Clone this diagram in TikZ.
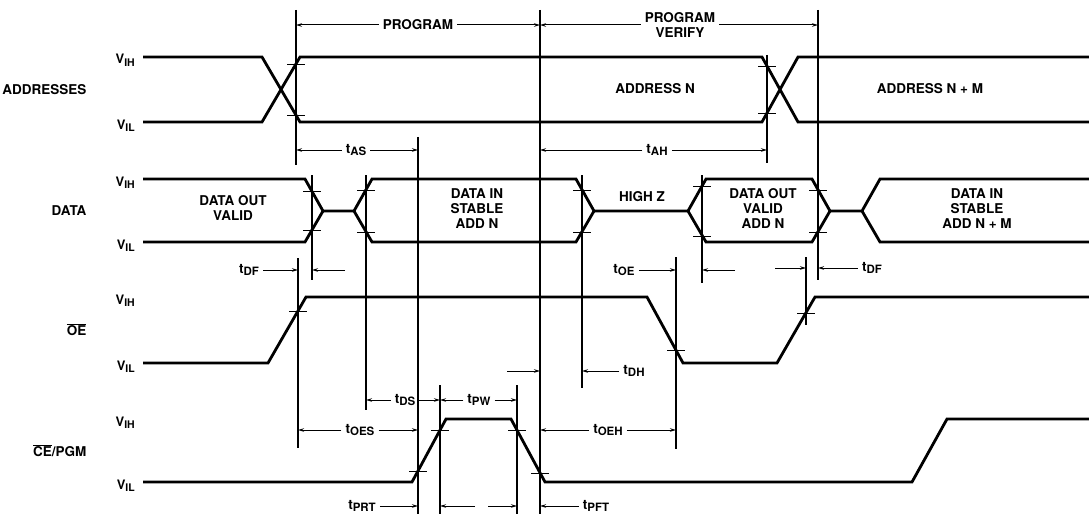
\documentclass[tikz,border=0pt]{standalone}
\usepackage{fontspec}
\setsansfont{TeX Gyre Heros}
\usetikzlibrary{arrows.meta}
\newcommand{\lo}[1]{\raisebox{-2.5pt}{\fontsize{11.5}{11.5}\selectfont #1}}
\newcommand{\tm}[1]{t\lo{#1}}
\newcommand{\vlev}[1]{{\fontsize{13}{13}\selectfont V}\raisebox{-2.5pt}{\fontsize{10.5}{10.5}\selectfont #1}}

\begin{document}
\begin{tikzpicture}[x=1pt, y=-1pt, >={Stealth[length=6pt,width=3.5pt]}, font=\sffamily\bfseries\fontsize{13.5}{15}\selectfont]
    \tikzstyle{sig}=[line width=2.8pt, line join=miter]
    \tikzstyle{tline}=[line width=1.2pt]
    \tikzstyle{tickmark}=[line width=0.9pt]
    \tikzstyle{dimline}=[->, line width=1pt]
    \tikzstyle{dimlbl}=[inner sep=4pt]

    \useasboundingbox (0,0) rectangle (1089,516);

    % time marks
    \foreach \x/\a/\b in {296/10/165, 298/258/448, 312/175/280, 366/175/410, 418/137/514,
        440/385/514, 517/385/514, 582/175/388, 676/257/449, 702/175/283, 767/55/163,
        806/257/325, 818/10/280}
        \draw[tline] (\x,\a) -- (\x,\b);
    \draw[tline, line width=1.8pt] (540,10) -- (540,514);

    % signals
    \draw[sig] (143,57) -- (262,57) -- (300,122) -- (762,122) -- (798,57) -- (1089,57);
    \draw[sig] (143,122) -- (262,122) -- (300,57) -- (762,57) -- (798,122) -- (1089,122);
    \draw[sig] (143,179) -- (305,179) -- (323,211) -- (354,211) -- (372,179) -- (576,179) -- (594,211)
        -- (688,211) -- (706,179) -- (812,179) -- (830,211) -- (862,211) -- (880,179) -- (1089,179);
    \draw[sig] (143,242) -- (305,242) -- (323,211) (354,211) -- (372,242) -- (576,242) -- (594,211)
        (688,211) -- (706,242) -- (812,242) -- (830,211) (862,211) -- (880,242) -- (1089,242);
    \draw[sig] (143,363) -- (268,363) -- (306,297) -- (647,297) -- (683,363) -- (777,363) -- (815,297) -- (1089,297);
    \draw[sig] (143,482) -- (412,482) -- (446,419) -- (511,419) -- (545,482) -- (912,482) -- (947,419) -- (1089,419);

    \foreach \x/\y in {296/64, 296/115, 767/66, 767/113, 312/191, 312/230, 366/190, 366/232,
        582/190, 582/232, 702/186, 702/236, 818/190, 818/232, 298/311, 676/350, 806/313,
        418/471, 440/430, 517/430, 540/473}
        \draw[tickmark] (\x-9,\y) -- (\x+9,\y);

    % signal names and levels
    \node[anchor=east] (addr) at (90,90) {ADDRESSES};
    \node[anchor=east] (data) at (90,211) {DATA};
    \node[anchor=east] (oe) at (90,330) {$\overline{\mbox{OE}}$};
    \node[anchor=east] (ce) at (90,451) {$\overline{\mbox{CE}}$/PGM};
    \foreach \y/\n in {57/IH, 122/IL, 179/IH, 242/IL, 297/IH, 363/IL, 419/IH, 482/IL}
        \node[anchor=base east, inner sep=0pt] (v\y) at (135,\y+7) {\vlev{\n}};

    \node (addrN) at (655,89) {ADDRESS N};
    \node (addrNM) at (930,89) {ADDRESS N + M};
    \node[align=center] (dout) at (233,208) {DATA OUT\\VALID};
    \node[align=center] (dinN) at (477,209) {DATA IN\\STABLE\\ADD N};
    \node (hiz) at (642,197) {HIGH Z};
    \node[align=center] (doutN) at (763,208) {DATA OUT\\VALID\\ADD N};
    \node[align=center] (dinNM) at (977,209) {DATA IN\\STABLE\\ADD N + M};

    % timing
    \node[dimlbl] (prog) at (418,25) {PROGRAM};
    \draw[dimline] (prog) -- (296,25);
    \draw[dimline] (prog) -- (540,25);
    \node[dimlbl, align=center, font=\sffamily\bfseries\fontsize{13.5}{14.5}\selectfont] (verify) at (680,25) {PROGRAM\\VERIFY};
    \draw[dimline] (verify) -- (540,25);
    \draw[dimline] (verify) -- (818,25);

    \node[dimlbl] (tas) at (356,150) {\tm{AS}};
    \draw[dimline] (tas) -- (296,150);
    \draw[dimline] (tas) -- (418,150);
    \node[dimlbl] (tah) at (657,150) {\tm{AH}};
    \draw[dimline] (tah) -- (540,150);
    \draw[dimline] (tah) -- (767,150);

    \node[dimlbl] (tdf) at (249,270) {\tm{DF}};
    \draw[dimline] (tdf) -- (298,270);
    \draw[dimline] (345,270) -- (312,270);
    \node[dimlbl] (toe) at (624,270) {\tm{OE}};
    \draw[dimline] (toe) -- (676,270);
    \draw[dimline] (735,270) -- (702,270);
    \draw[dimline] (775,268) -- (806,268);
    \node[dimlbl] (tdfv) at (872,268) {\tm{DF}};
    \draw[dimline] (tdfv) -- (818,268);

    \draw[dimline] (507,371) -- (540,371);
    \node[dimlbl] (tdh) at (634,371) {\tm{DH}};
    \draw[dimline] (tdh) -- (582,371);

    \node[dimlbl] (tds) at (405,400) {\tm{DS}};
    \draw[dimline] (tds) -- (366,400);
    \draw[dimline] (tds) -- (440,400);
    \node[dimlbl] (tpw) at (479,400) {\tm{PW}};
    \draw[dimline] (tpw) -- (440,400);
    \draw[dimline] (tpw) -- (517,400);

    \node[dimlbl] (toes) at (360,430) {\tm{OES}};
    \draw[dimline] (toes) -- (298,430);
    \draw[dimline] (toes) -- (418,430);
    \node[dimlbl] (toeh) at (608,430) {\tm{OEH}};
    \draw[dimline] (toeh) -- (540,430);
    \draw[dimline] (toeh) -- (676,430);

    \node[dimlbl] (tprt) at (362,506) {\tm{PRT}};
    \draw[dimline] (tprt) -- (418,506);
    \draw[dimline] (475,506) -- (440,506);
    \draw[dimline] (488,506) -- (517,506);
    \node[dimlbl] (tpft) at (596,506) {\tm{PFT}};
    \draw[dimline] (tpft) -- (540,506);
\end{tikzpicture}
\end{document}
